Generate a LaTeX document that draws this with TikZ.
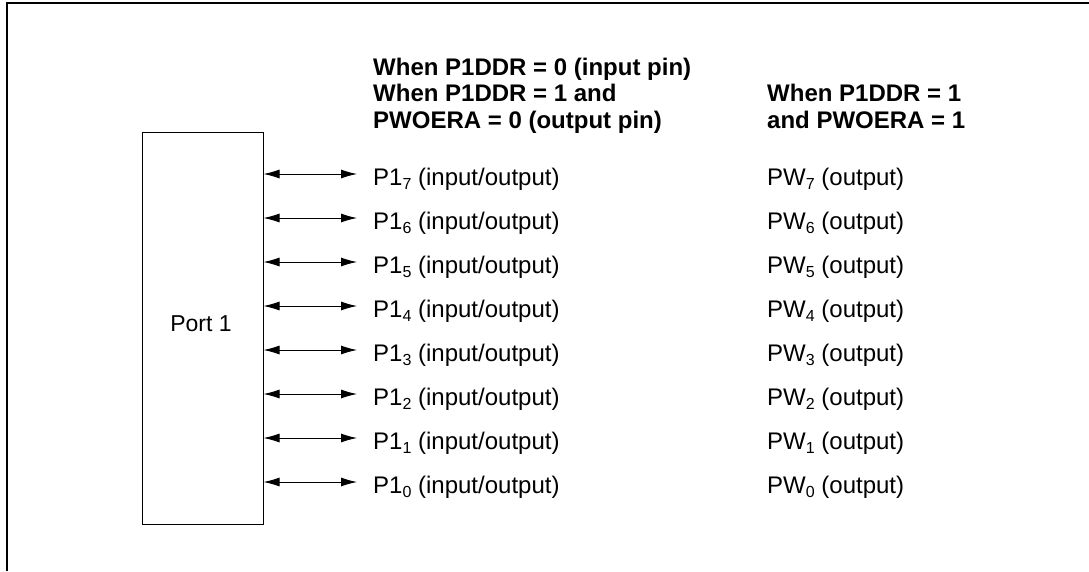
\documentclass[tikz,border=0pt]{standalone}
\usepackage{fontspec}
\setmainfont{Liberation Sans}
\usetikzlibrary{positioning,arrows.meta}
\newcommand{\pinsub}[1]{\raisebox{-4pt}{\fontsize{16}{16}\selectfont #1}}

\begin{document}
\begin{tikzpicture}[x=1pt, y=-1pt, font=\fontsize{24}{26.5}\selectfont,
  pinlabel/.style={anchor=base west, inner sep=0pt},
  hdr/.style={pinlabel, align=left, font=\fontsize{24}{26.5}\selectfont\bfseries},
  pinarrow/.style={{Latex[length=16pt,width=9pt]}-{Latex[length=16pt,width=9pt]}, line width=0.9pt}]
 \useasboundingbox (0,0) rectangle (1089,571);
 \draw[line width=2.5pt] (7,571) -- (7,3) -- (1089,3);
 \node[draw, line width=1pt, minimum width=121pt, minimum height=392pt, inner sep=0pt] (port) at (202.5,328) {};
 \node[anchor=base, inner sep=0pt, font=\fontsize{23}{23}\selectfont] (portname) at (201,331.5) {Port 1};
 \node[hdr] (hdrio) at (373,128) {When P1DDR = 0 (input pin)\\When P1DDR = 1 and\\PWOERA = 0 (output pin)};
 \node[hdr] (hdrpw) at (767,128) {When P1DDR = 1\\and PWOERA = 1};
 \foreach \n [count=\i from 0] in {7,...,0}{
   \coordinate (tip\n) at (357,174+44*\i);
   \draw[pinarrow] (port.east |- tip\n) -- (tip\n);
   \node[pinlabel] (p\n) at (373,185+44*\i) {P1\pinsub{\n} (input/output)};
   \node[pinlabel] (pw\n) at (767,185+44*\i) {PW\pinsub{\n} (output)};}
\end{tikzpicture}
\end{document}
